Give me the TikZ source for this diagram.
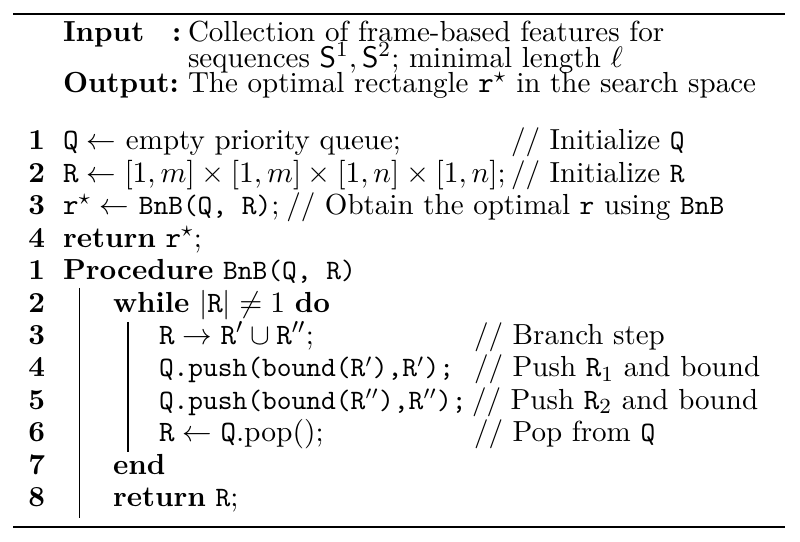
\documentclass[tikz,border=0pt]{standalone}
\usepackage{amsmath,amssymb}
\newcommand{\Tt}[1]{{\fontsize{10.4}{12}\selectfont\ttfamily #1}}
\begin{document}
\begin{tikzpicture}[x=0.3704pt,y=-0.3704pt,
  txt/.style={anchor=base west,inner sep=0pt,outer sep=0pt,font=\fontsize{10.75}{12}\selectfont},
  num/.style={anchor=base east,inner sep=0pt,outer sep=0pt,font=\fontsize{10.75}{12}\selectfont\bfseries},
  heavyrule/.style={line width=0.8pt},
  blockbar/.style={line width=0.45pt}]
\useasboundingbox (0,0) rectangle (800,542);
% rules
\coordinate (tl) at (13,14); \coordinate (tr) at (785,14);
\coordinate (bl) at (13,527); \coordinate (br) at (785,527);
\draw[heavyrule] (tl) -- (tr);
\draw[heavyrule] (bl) -- (br);
% header
\node[txt] (inlab) at (63,42) {\textbf{Input}};
\node[txt] (incol) at (172,42) {\textbf{:}};
\node[txt] (in1) at (188,42) {Collection of frame-based features for};
\node[txt] (in2) at (188,67.5) {sequences $\mathsf{S}^1,\mathsf{S}^2$; minimal length $\ell$};
\node[txt] (outlab) at (63,93) {\textbf{Output:}};
\node[txt] (out1) at (188,93) {The optimal rectangle $\mathtt{r}^\star$ in the search space};
% line numbers
\node[num] (n1) at (45,150) {1};
\node[num] (n2) at (45,182.4) {2};
\node[num] (n3) at (45,214.8) {3};
\node[num] (n4) at (45,247.2) {4};
\node[num] (p1) at (45,279.6) {1};
\node[num] (p2) at (45,312) {2};
\node[num] (p3) at (45,344.4) {3};
\node[num] (p4) at (45,376.8) {4};
\node[num] (p5) at (45,409.2) {5};
\node[num] (p6) at (45,441.6) {6};
\node[num] (p7) at (45,474) {7};
\node[num] (p8) at (45,506.4) {8};
% main body
\node[txt] (l1) at (63,150) {$\mathtt{Q}\leftarrow$ empty priority queue;};
\node[txt] (c1) at (511,150) {// Initialize \Tt{Q}};
\node[txt] (l2) at (63,182.4) {$\mathtt{R}\leftarrow[1,m]\times[1,m]\times[1,n]\times[1,n]$;};
\node[txt] (c2) at (511,182.4) {// Initialize \Tt{R}};
\node[txt] (l3) at (63,214.8) {$\mathtt{r}^\star\leftarrow$ \Tt{BnB(Q, R)};};
\node[txt] (c3) at ([xshift=2.5pt]l3.base east) {// Obtain the optimal \Tt{r} using \Tt{BnB}};
\node[txt] (l4) at (63,247.2) {\textbf{return} $\mathtt{r}^\star$;};
% procedure
\node[txt] (q1) at (63,279.6) {\textbf{Procedure} \Tt{BnB(Q, R)}};
\node[txt] (q2) at (113,312) {\textbf{while} $|\mathtt{R}|\neq 1$ \textbf{do}};
\node[txt] (q3) at (159,344.4) {$\mathtt{R}\rightarrow\mathtt{R}'\cup\mathtt{R}''$;};
\node[txt] (d3) at (474,344.4) {// Branch step};
\node[txt] (q4) at (159,376.8) {\Tt{Q.push(bound(R$'$),R$'$);}};
\node[txt] (d4) at (474,376.8) {// Push $\mathtt{R}_1$ and bound};
\node[txt] (q5) at (159,409.2) {\Tt{Q.push(bound(R$''$),R$''$);}};
\node[txt] (d5) at (472,409.2) {// Push $\mathtt{R}_2$ and bound};
\node[txt] (q6) at (159,441.6) {$\mathtt{R}\leftarrow\mathtt{Q}.\mathrm{pop}()$;};
\node[txt] (d6) at (474,441.6) {// Pop from \Tt{Q}};
\node[txt] (q7) at (113,474) {\textbf{end}};
\node[txt] (q8) at (113,506.4) {\textbf{return} \Tt{R};};
% block bars
\coordinate (ob1) at (79.3,288); \coordinate (ob2) at (79.3,518);
\coordinate (ib1) at (128,322); \coordinate (ib2) at (128,452);
\draw[blockbar] (ob1) -- (ob2);
\draw[blockbar] (ib1) -- (ib2);
\end{tikzpicture}
\end{document}
